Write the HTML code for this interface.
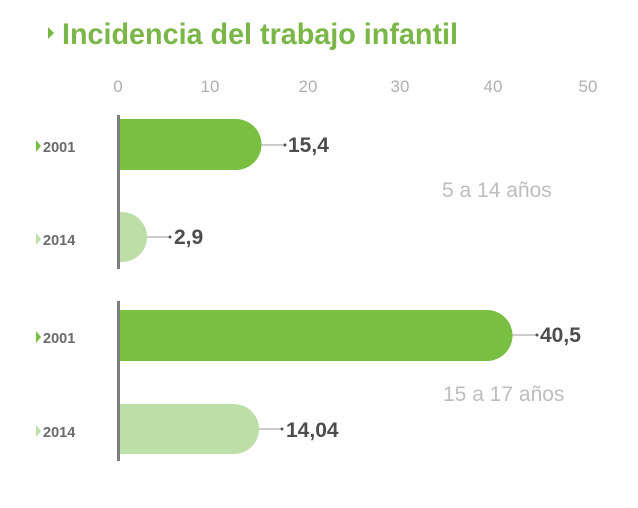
<!DOCTYPE html>
<html><head><meta charset="utf-8"><style>
html,body{margin:0;padding:0;background:#fff;}
svg{display:block;}
text{font-family:"Liberation Sans",sans-serif;}
</style></head><body>
<svg width="638" height="508" viewBox="0 0 638 508">
<polygon points="48,27 54,33 48,39" fill="#7ab648"/>
<text x="62" y="44" font-size="30" font-weight="bold" fill="#7ab648" textLength="396" lengthAdjust="spacingAndGlyphs">Incidencia del trabajo infantil</text>
<g font-size="17" fill="#b0b0b0" text-anchor="middle">
<text x="118" y="92">0</text><text x="210" y="92">10</text><text x="308" y="92">20</text>
<text x="400" y="92">30</text><text x="493" y="92">40</text><text x="588" y="92">50</text>
</g>
<rect x="117" y="115" width="3" height="154" fill="#7d7d7d"/>
<rect x="117" y="301" width="3" height="160" fill="#7d7d7d"/>
<path d="M120 119 H236 A25.5 25.5 0 0 1 236 170 H120 Z" fill="#79bf42"/>
<path d="M120 212 H122 A25 25 0 0 1 122 262 H120 Z" fill="#bcdfa8"/>
<path d="M120 310 H487 A25.5 25.5 0 0 1 487 361 H120 Z" fill="#79bf42"/>
<path d="M120 404 H234 A25 25 0 0 1 234 454 H120 Z" fill="#bcdfa8"/>
<g stroke="#999" stroke-width="1">
<line x1="261" y1="145" x2="285" y2="145"/>
<line x1="147" y1="237" x2="170" y2="237"/>
<line x1="512" y1="335" x2="537" y2="335"/>
<line x1="259" y1="429" x2="282" y2="429"/>
</g>
<g fill="#555"><circle cx="285" cy="145" r="1.5"/><circle cx="170" cy="237" r="1.5"/><circle cx="537" cy="335" r="1.5"/><circle cx="282" cy="429" r="1.5"/></g>
<g font-size="21" font-weight="bold" fill="#4d4d4d">
<text x="288" y="152">15,4</text>
<text x="174" y="244">2,9</text>
<text x="540" y="342">40,5</text>
<text x="286" y="437">14,04</text>
</g>
<g font-size="21" fill="#bdbdbd">
<text x="442" y="197">5 a 14 años</text>
<text x="443" y="401">15 a 17 años</text>
</g>
<g font-size="14.5" font-weight="bold" fill="#6a6a6a">
<text x="43" y="152">2001</text><text x="43" y="245">2014</text>
<text x="43" y="343">2001</text><text x="43" y="437">2014</text>
</g>
<polygon points="36,140 41,146 36,152" fill="#79bf42"/>
<polygon points="36,233 41,239 36,245" fill="#bcdfa8"/>
<polygon points="36,331 41,337 36,343" fill="#79bf42"/>
<polygon points="36,425 41,431 36,437" fill="#bcdfa8"/>
</svg>
</body></html>
